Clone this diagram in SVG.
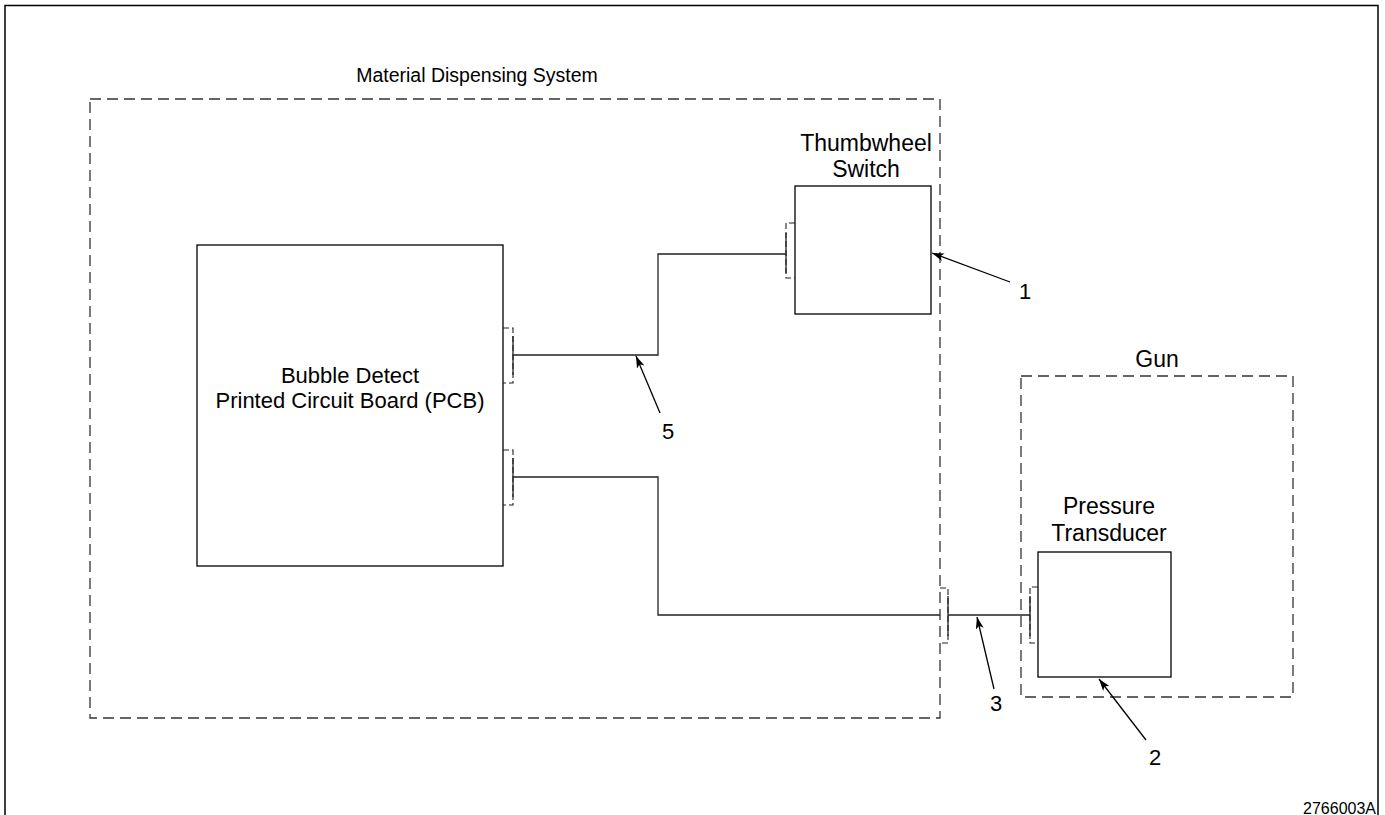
<svg xmlns="http://www.w3.org/2000/svg" width="1385" height="815" viewBox="0 0 1385 815">
<defs>
<style>
.t{font-family:"Liberation Sans",Arial,sans-serif;font-size:22px;fill:#000;text-anchor:middle}
.big{font-size:23px}
.box{fill:#fff;stroke:#000;stroke-width:1.3}
.dash{fill:none;stroke:#333;stroke-width:1.3;stroke-dasharray:11,6}
.br{fill:none;stroke:#222;stroke-width:1.1;stroke-dasharray:6,3}
.w{fill:none;stroke:#222;stroke-width:1.3}
.ld{fill:none;stroke:#000;stroke-width:1.3;marker-end:url(#ah)}
</style>
<marker id="ah" viewBox="0 0 12 8" refX="12" refY="4" markerWidth="12" markerHeight="8" markerUnits="userSpaceOnUse" orient="auto">
<path d="M0,0 L12,4 L0,8 L3,4 Z" fill="#000"/>
</marker>
</defs>
<rect width="1385" height="815" fill="#fff"/>
<rect x="5" y="5.5" width="1373" height="820" fill="none" stroke="#000" stroke-width="1.5"/>

<g id="system">
<rect class="dash" x="90" y="99" width="850" height="619"/>
<text class="t" x="477" y="82" style="font-size:19.5px">Material Dispensing System</text>
</g>
<g id="gun">
<rect class="dash" x="1021" y="376" width="272" height="321"/>
<text class="t big" x="1157" y="367">Gun</text>
</g>
<g id="pcb">
<rect class="box" x="197" y="245" width="306" height="321"/>
<text class="t" x="350" y="383">Bubble Detect</text>
<text class="t" x="350" y="408">Printed Circuit Board (PCB)</text>
</g>
<g id="thumbwheel">
<rect class="box" x="795" y="186" width="136" height="128"/>
<text class="t big" x="866" y="151">Thumbwheel</text>
<text class="t big" x="866" y="177">Switch</text>
</g>
<g id="transducer">
<rect class="box" x="1038" y="552" width="133" height="125"/>
<text class="t big" x="1109" y="514">Pressure</text>
<text class="t big" x="1109" y="541">Transducer</text>
</g>

<g id="connectors">
<path class="br" d="M503,328 H513 V383 H503"/>
<line class="w" x1="513" y1="336" x2="513" y2="375"/>
<path class="br" d="M503,450 H513 V505 H503"/>
<line class="w" x1="513" y1="458" x2="513" y2="497"/>
<path class="br" d="M795,223 H786 V278 H795"/>
<line class="w" x1="786" y1="233" x2="786" y2="273"/>
<path class="br" d="M940,588 H948 V643 H940"/>
<line class="w" x1="948" y1="596" x2="948" y2="636"/>
<path class="br" d="M1038,587 H1030 V643 H1038"/>
<line class="w" x1="1030" y1="596" x2="1030" y2="636"/>
<path class="w" d="M513,355 H658 V254 H786"/>
<path class="w" d="M513,477 H658 V615 H940"/>
<line class="w" x1="948" y1="615" x2="1030" y2="615"/>
<line class="ld" x1="1010" y1="282" x2="932" y2="253"/>
<line class="ld" x1="660" y1="413" x2="636" y2="356"/>
<line class="ld" x1="994" y1="689" x2="977" y2="617"/>
<line class="ld" x1="1146" y1="740" x2="1099" y2="679"/>
</g>

<g id="labels">
<text class="t" x="1025" y="299">1</text>
<text class="t" x="668" y="439">5</text>
<text class="t" x="996" y="711">3</text>
<text class="t" x="1155" y="765">2</text>
<text x="1376" y="814" style="font-family:'Liberation Sans',Arial,sans-serif;font-size:16px;text-anchor:end">2766003A</text>
</g>
</svg>
